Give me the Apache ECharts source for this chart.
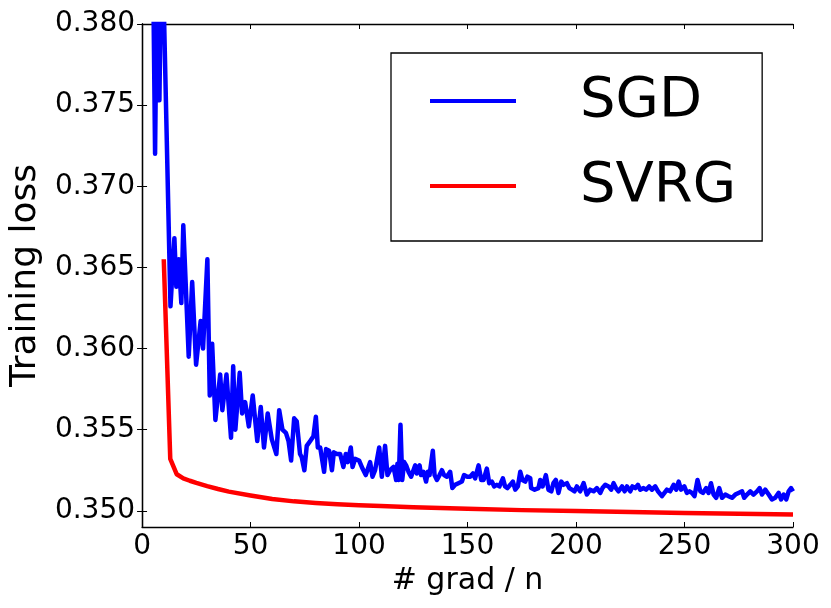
<!DOCTYPE html>
<html>
<head>
<meta charset="utf-8">
<script src="https://cdn.jsdelivr.net/npm/echarts@6/dist/echarts.min.js"></script>
<style>
  html, body { margin: 0; padding: 0; background: #fff; }
  #chart { width: 831px; height: 608px; }
</style>
</head>
<body>
<div id="chart"></div>
<script>
// values
const sgdSteps = [5, 6, 7, 8, 9, 10, 13.1, 14.9, 15.8, 16.9, 18.1, 19.0, 21.5, 23.1, 24.9, 27.0, 28.1, 30.1, 31.2, 32.3,
  33.8, 36.0, 37.0, 38.9, 41.0, 42.0, 43.0, 45.0, 46.1, 47.5, 49.2, 51.0, 53.1, 54.7, 56.2, 57.9, 59.8, 61.9, 63.2, 64.7,
  66.3, 67.5, 68.7, 70.1, 71.3, 72.8, 73.6, 74.8, 75.9, 77.5, 79.0, 80.1, 81.0, 82.1, 83.9, 84.8, 86.2, 87.5, 88.4, 89.8,
  91.3, 92.8, 93.9, 94.8, 96.2, 97.0, 98.2, 100.0, 101.6, 103.1, 105.1, 106.2, 107.4, 109.3, 110.5, 112.0, 113.1, 114.3, 115.9, 117.1,
  117.7, 118.3, 119.1, 119.9, 120.8, 121.7, 122.8, 124.0, 125.9, 126.6, 127.9, 128.6, 129.7, 130.9, 131.7, 132.5, 134.0, 134.8, 135.9, 137.1,
  138.2, 139.2, 140.5, 142.0, 143.0, 144.3, 145.8, 147.4, 148.4, 149.9, 151.2, 152.5, 153.5, 155.1, 156.3, 157.4, 158.9, 160.0, 161.2, 162.3,
  163.5, 164.7, 166.3, 167.3, 168.4, 169.7, 170.9, 172.0, 173.2, 174.3, 175.3, 176.6, 177.6, 178.9, 179.3, 180.9, 182.7, 183.5, 184.6, 186.1,
  187.3, 188.6, 189.6, 190.7, 191.9, 193.2, 194.2, 195.8, 196.9, 198.1, 199.3, 200.4, 201.9, 203.5, 205.0, 206.5, 208.1, 209.6, 211.2, 212.2,
  213.5, 215.0, 216.2, 217.3, 218.4, 219.6, 221.2, 222.4, 223.5, 225.0, 226.0, 227.3, 228.5, 229.6, 231.1, 232.3, 233.7, 235.0, 236.5, 237.8,
  239.6, 240.3, 241.9, 243.4, 245.0, 246.2, 247.3, 248.4, 249.9, 251.1, 252.3, 253.4, 254.6, 256.0, 257.3, 258.5, 260.0, 261.1, 262.2, 263.4,
  264.6, 266.0, 267.3, 268.8, 270.3, 271.9, 273.4, 274.9, 276.5, 277.5, 278.8, 280.3, 281.8, 283.4, 284.6, 285.7, 287.2, 288.8, 290.3, 291.8,
  293.4, 294.5, 295.7, 296.9, 298.0, 299.1, 300];
const sgdLoss = [0.3845, 0.3720, 0.3850, 0.3753, 0.3860, 0.3812, 0.3626, 0.3668, 0.3638, 0.3655, 0.3628, 0.3676, 0.3595, 0.3641, 0.3590, 0.3617, 0.3600, 0.3655, 0.3571, 0.3603,
  0.3556, 0.3584, 0.3562, 0.3584, 0.3545, 0.3589, 0.3550, 0.3585, 0.3560, 0.3567, 0.3552, 0.3571, 0.3543, 0.3564, 0.3539, 0.3560, 0.3544, 0.3535, 0.3562, 0.3550,
  0.3548, 0.3543, 0.3531, 0.3557, 0.3555, 0.3535, 0.3533, 0.3525, 0.3540, 0.3543, 0.3546, 0.3558, 0.3539, 0.3539, 0.3524, 0.3538, 0.3537, 0.3525, 0.3536, 0.3535,
  0.3535, 0.3527, 0.3535, 0.3530, 0.3539, 0.3527, 0.3532, 0.3531, 0.3526, 0.3522, 0.3530, 0.3521, 0.3525, 0.3539, 0.3521, 0.3540, 0.3522, 0.3525, 0.3527, 0.3519,
  0.3529, 0.3519, 0.3553, 0.3519, 0.3530, 0.3528, 0.3524, 0.3521, 0.3528, 0.3523, 0.3528, 0.3522, 0.3524, 0.3518, 0.3524, 0.3522, 0.3537, 0.3522, 0.3519, 0.3522,
  0.3525, 0.3522, 0.3521, 0.3524, 0.3514, 0.3516, 0.3517, 0.3518, 0.3522, 0.3521, 0.3521, 0.3523, 0.3520, 0.3528, 0.3519, 0.3519, 0.3526, 0.3517, 0.3518, 0.3515,
  0.3516, 0.3515, 0.3520, 0.3515, 0.3514, 0.3516, 0.3518, 0.3513, 0.3515, 0.3524, 0.3519, 0.3518, 0.3521, 0.3520, 0.3514, 0.3513, 0.3514, 0.3519, 0.3515, 0.3522,
  0.3513, 0.3512, 0.3517, 0.3519, 0.3511, 0.3518, 0.3516, 0.3517, 0.3514, 0.3513, 0.3512, 0.3515, 0.3512, 0.3517, 0.3510, 0.3513, 0.3512, 0.3514, 0.3511, 0.3514,
  0.3516, 0.3515, 0.3513, 0.3517, 0.3514, 0.3512, 0.3515, 0.3512, 0.3515, 0.3512, 0.3515, 0.3514, 0.3516, 0.3513, 0.3514, 0.3513, 0.3515, 0.3513, 0.3515, 0.3512,
  0.3509, 0.3510, 0.3513, 0.3512, 0.3516, 0.3513, 0.3518, 0.3513, 0.3515, 0.3511, 0.3512, 0.3511, 0.3509, 0.3519, 0.3512, 0.3511, 0.3514, 0.3511, 0.3517, 0.3510,
  0.3508, 0.3514, 0.3508, 0.3510, 0.3509, 0.3508, 0.3510, 0.3511, 0.3512, 0.3508, 0.3510, 0.3512, 0.3510, 0.3512, 0.3514, 0.3510, 0.3513, 0.3510, 0.3507, 0.3508,
  0.3511, 0.3507, 0.3510, 0.3507, 0.3512, 0.3514, 0.3512];

const svrgSteps = [10, 13, 16, 19, 22, 25, 30, 35, 40, 50, 60, 70, 80, 90, 100, 110, 125, 150, 175, 200, 225, 250, 275, 300];
const svrgLoss = [0.3655, 0.3532, 0.35225, 0.3520, 0.35185, 0.35172, 0.35152, 0.35134, 0.35118, 0.35094, 0.35073, 0.35058, 0.35048,
  0.35040, 0.35034, 0.35029, 0.35022, 0.35012, 0.35004, 0.34998, 0.34992, 0.34987, 0.34982, 0.34977];

const yTicks = [0.350, 0.355, 0.360, 0.365, 0.370, 0.375, 0.380];

const font = 'DejaVu Sans';
const sgdData = sgdSteps.map((x, i) => [x, sgdLoss[i]]);
const svrgData = svrgSteps.map((x, i) => [x, svrgLoss[i]]);

const tickStyle = { show: true, inside: true, length: 5, lineStyle: { color: '#000', width: 1 } };
const lineStyle = { show: true, lineStyle: { color: '#000', width: 1.3 } };

const myChart = echarts.init(document.getElementById('chart'));
myChart.setOption({
  animation: false,
  backgroundColor: '#fff',
  grid: {
    left: 142,
    right: 38,
    top: 24,
    bottom: 81,
  },
  legend: {
    orient: 'vertical',
    left: 391,
    top: 53,
    padding: [18, 26, 25, 39],
    itemGap: 25,
    itemWidth: 86,
    itemHeight: 4,
    icon: 'rect',
    borderColor: '#000',
    borderWidth: 1.3,
    backgroundColor: '#fff',
    data: ['SGD', 'SVRG'],
    textStyle: {
      fontFamily: font,
      fontSize: 56,
      lineHeight: 60,
      color: '#000',
      padding: [0, 0, 0, 59],
    },
  },
  xAxis: [
    {
      type: 'value',
      min: 0,
      max: 300,
      interval: 50,
      name: '# grad / n',
      nameLocation: 'middle',
      nameGap: 33,
      nameTextStyle: { fontFamily: font, fontSize: 30, color: '#000' },
      axisLine: lineStyle,
      axisTick: tickStyle,
      splitLine: { show: false },
      axisLabel: { fontFamily: font, fontSize: 28, color: '#000', margin: 6 },
    },
    {
      type: 'value',
      position: 'top',
      min: 0,
      max: 300,
      interval: 50,
      axisLine: lineStyle,
      axisTick: tickStyle,
      splitLine: { show: false },
      axisLabel: { show: false },
    },
  ],
  yAxis: [
    {
      type: 'value',
      min: 0.349,
      max: 0.380,
      name: 'Training loss',
      nameLocation: 'middle',
      nameGap: 96,
      nameTextStyle: { fontFamily: font, fontSize: 36, color: '#000' },
      axisLine: lineStyle,
      axisTick: Object.assign({ customValues: yTicks }, tickStyle),
      splitLine: { show: false },
      axisLabel: {
        fontFamily: font,
        fontSize: 28,
        color: '#000',
        margin: 7,
        customValues: yTicks,
        formatter: v => v.toFixed(3),
      },
    },
    {
      type: 'value',
      position: 'right',
      min: 0.349,
      max: 0.380,
      axisLine: lineStyle,
      axisTick: Object.assign({ customValues: yTicks }, tickStyle),
      splitLine: { show: false },
      axisLabel: { show: false },
    },
  ],
  series: [
    {
      name: 'SGD',
      type: 'line',
      data: sgdData,
      showSymbol: false,
      symbol: 'none',
      itemStyle: { color: '#0000ff' },
      lineStyle: { width: 4.5, color: '#0000ff', join: 'round' },
    },
    {
      name: 'SVRG',
      type: 'line',
      data: svrgData,
      showSymbol: false,
      symbol: 'none',
      itemStyle: { color: '#ff0000' },
      lineStyle: { width: 4.5, color: '#ff0000', join: 'round' },
    },
  ],
});
</script>
</body>
</html>
